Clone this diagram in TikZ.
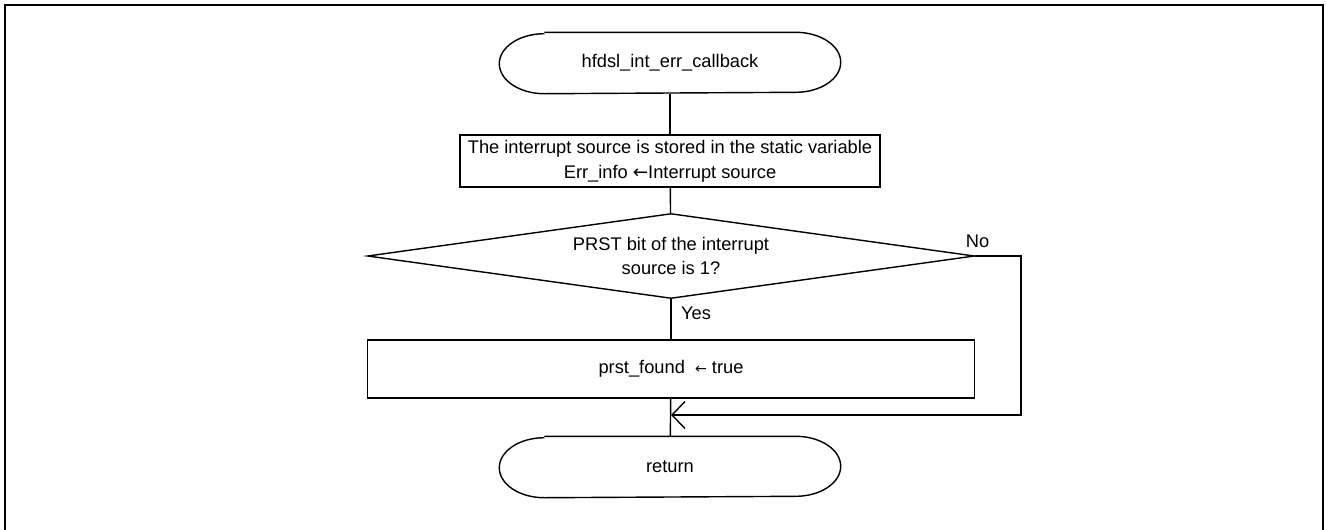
\documentclass[tikz,border=0pt]{standalone}
\usepackage{fontspec}
\setmainfont{Liberation Sans}
\usepackage{tikz}
\usetikzlibrary{positioning, shapes.geometric, arrows.meta}

\begin{document}
\begin{tikzpicture}[
    font=\fontsize{10.4}{14}\selectfont,
    line width=0.8pt,
    terminal/.style={rectangle, minimum width=6.8cm, minimum height=1.2cm, inner sep=0pt},
    procbox/.style={draw, rectangle, align=center, inner sep=0pt},
    decision/.style={draw, diamond, aspect=7.1, align=center, inner sep=0pt, minimum width=12.14cm, minimum height=1.7cm},
  ]
  \useasboundingbox (0,0) rectangle (26.52,-10.58);
  \draw[line width=1.6pt] (0.1,-10.6) |- (26.46,-0.1) -- (26.46,-10.6);

  \node[terminal] (start) at (13.4,-1.26) {hfdsl\_int\_err\_callback};
  \node[procbox, minimum width=8.4cm, minimum height=1.04cm] (store) at (13.4,-3.22)
    {The interrupt source is stored in the static variable\\ Err\_info {\fontspec{DejaVu Sans}←}Interrupt source};
  \node[decision] (check) at (13.42,-5.12) {PRST bit of the interrupt\\ source is 1?};
  \node[procbox, minimum width=12.14cm, minimum height=1.16cm] (found) at (13.42,-7.38)
    {prst\_found \ {\fontspec{DejaVu Sans}\fontsize{8}{9}\selectfont←} true};
  \node[terminal] (ret) at (13.4,-9.34) {return};

  \foreach \n in {start, ret}
    \draw ([xshift=0.9cm]\n.north west) -- ([xshift=-0.9cm]\n.north east)
      arc[start angle=90, end angle=-90, x radius=0.9cm, y radius=0.6cm]
      -- ([xshift=0.9cm]\n.south west)
      arc[start angle=270, end angle=90, x radius=0.9cm, y radius=0.6cm];

  \coordinate (merge) at (13.42,-8.3);
  \coordinate (nocorner) at (20.42,-5.12);

  \draw (start) -- (store);
  \draw (store) -- (check);
  \draw (check) -- node[pos=0.35, right, xshift=2pt] {Yes} (found);
  \draw (found) -- (ret);
  \draw[-{Straight Barb[length=2.6mm, width=5.4mm]}]
    (check.east) -- node[pos=0.05, above, yshift=1pt] {No} (nocorner) |- (merge);
\end{tikzpicture}
\end{document}
